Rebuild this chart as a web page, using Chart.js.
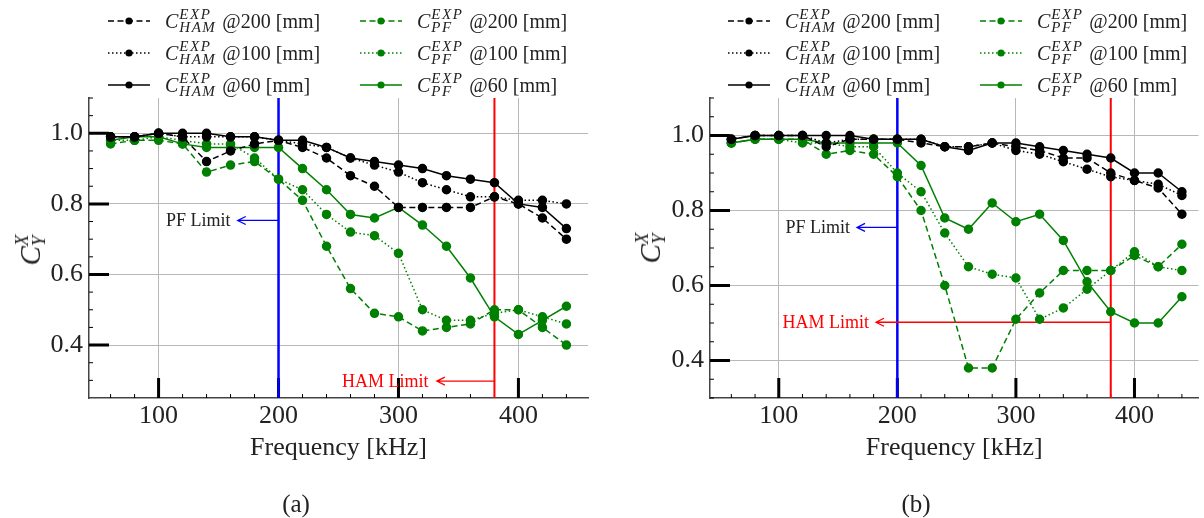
<!DOCTYPE html>
<html lang="en">
<head>
  <meta charset="UTF-8" />
  <title>Coupling coefficient vs frequency</title>
  <script src="https://cdn.jsdelivr.net/npm/chart.js"></script>
  <style>
    body {
      margin: 0;
      background: #fff;
      font-family: "Liberation Serif", serif;
      color: #222;
    }

    .page {
      position: relative;
      width: 1204px;
      height: 518px;
      overflow: hidden;
    }

    canvas {
      position: absolute;
      top: 0;
    }

    #chartA { left: 0; }
    #chartB { left: 621px; }

    .legend-item {
      position: absolute;
      display: flex;
      align-items: center;
      height: 30px;
      font-size: 20px;
      white-space: nowrap;
    }

    .legend-item svg {
      margin-right: 15px;
    }

    .scripts {
      display: inline-flex;
      flex-direction: column;
      font-size: 15px;
      line-height: 13px;
      font-style: italic;
      letter-spacing: 1.5px;
      margin: 0 6px 0 1px;
    }

    .ytitle {
      position: absolute;
      font-size: 29px;
      display: flex;
      align-items: center;
      transform: translate(-50%, -50%) rotate(-90deg);
    }

    .ytitle .scripts {
      font-size: 19px;
      line-height: 17px;
      letter-spacing: 0;
      margin: 0;
    }

    .tag {
      position: absolute;
      top: 490px;
      font-size: 25px;
      transform: translateX(-50%);
    }
  </style>
</head>
<body>
  <div class="page" id="page">
    <canvas id="chartA" width="600" height="518"></canvas>
    <canvas id="chartB" width="583" height="518"></canvas>
    <div class="ytitle" style="left:30px; top:250px"><i>C</i><span class="scripts"><i>X</i><i>Y</i></span></div>
    <div class="ytitle" style="left:650px; top:248px"><i>C</i><span class="scripts"><i>X</i><i>Y</i></span></div>
    <div class="tag" style="left:296px">(a)</div>
    <div class="tag" style="left:916px">(b)</div>
  </div>

  <script>
    const freq = [60, 80, 100, 120, 140, 160, 180, 200, 220, 240, 260, 280, 300, 320, 340, 360, 380, 400, 420, 440];
    const xTicks = [100, 200, 300, 400];
    const yTicks = [0.4, 0.6, 0.8, 1.0];

    // panel (a)
    const hamA200 = [0.99, 0.99, 1.00, 0.99, 0.92, 0.95, 0.97, 0.98, 0.96, 0.93, 0.88, 0.85, 0.79, 0.79, 0.79, 0.79, 0.82, 0.80, 0.76, 0.70];
    const hamA100 = [0.99, 0.99, 1.00, 0.99, 0.99, 0.99, 0.99, 0.98, 0.97, 0.96, 0.93, 0.91, 0.89, 0.86, 0.84, 0.82, 0.82, 0.81, 0.81, 0.80];
    const hamA60  = [0.99, 0.99, 1.00, 1.00, 1.00, 0.99, 0.99, 0.98, 0.98, 0.96, 0.93, 0.92, 0.91, 0.90, 0.88, 0.87, 0.86, 0.80, 0.79, 0.73];
    const pfA200  = [0.97, 0.98, 0.98, 0.97, 0.89, 0.91, 0.92, 0.87, 0.81, 0.68, 0.56, 0.49, 0.48, 0.44, 0.45, 0.46, 0.50, 0.50, 0.45, 0.40];
    const pfA100  = [0.98, 0.98, 0.99, 0.98, 0.97, 0.97, 0.93, 0.87, 0.84, 0.77, 0.72, 0.71, 0.66, 0.50, 0.47, 0.47, 0.49, 0.50, 0.48, 0.46];
    const pfA60   = [0.98, 0.99, 0.99, 0.97, 0.96, 0.96, 0.96, 0.96, 0.90, 0.84, 0.77, 0.76, 0.79, 0.74, 0.68, 0.59, 0.48, 0.43, 0.47, 0.51];

    // panel (b)
    const hamB200 = [0.99, 1.00, 1.00, 1.00, 0.97, 0.99, 0.99, 0.99, 0.98, 0.97, 0.97, 0.98, 0.97, 0.96, 0.94, 0.94, 0.90, 0.88, 0.86, 0.79];
    const hamB100 = [0.99, 1.00, 1.00, 1.00, 0.98, 0.99, 0.99, 0.99, 0.99, 0.97, 0.97, 0.98, 0.96, 0.95, 0.93, 0.91, 0.89, 0.88, 0.87, 0.84];
    const hamB60  = [0.99, 1.00, 1.00, 1.00, 1.00, 1.00, 0.99, 0.99, 0.99, 0.97, 0.96, 0.98, 0.98, 0.97, 0.96, 0.95, 0.94, 0.90, 0.90, 0.85];
    const pfB200  = [0.98, 0.99, 0.99, 0.99, 0.95, 0.96, 0.95, 0.89, 0.80, 0.60, 0.38, 0.38, 0.51, 0.58, 0.64, 0.64, 0.64, 0.68, 0.65, 0.71];
    const pfB100  = [0.98, 0.99, 0.99, 0.98, 0.98, 0.97, 0.97, 0.90, 0.85, 0.74, 0.65, 0.63, 0.62, 0.51, 0.54, 0.59, 0.64, 0.69, 0.65, 0.64];
    const pfB60   = [0.98, 0.99, 0.99, 0.99, 0.98, 0.98, 0.98, 0.98, 0.92, 0.78, 0.75, 0.82, 0.77, 0.79, 0.72, 0.61, 0.53, 0.50, 0.50, 0.57];

    const pfLimit = 200;
    const hamLimit = 380;

    const BLACK = "#000000";
    const GREEN = "#008000";
    const DASHED = [6, 3.5];
    const DOTTED = [1.5, 2.5];
    const SOLID = [];
    const serif = "'Liberation Serif', serif";

    function seriesList(h200, h100, h60, p200, p100, p60) {
      return [
        { sub: "HAM", sup: "EXP", at: "@200 [mm]", values: h200, color: BLACK, dash: DASHED },
        { sub: "HAM", sup: "EXP", at: "@100 [mm]", values: h100, color: BLACK, dash: DOTTED },
        { sub: "HAM", sup: "EXP", at: "@60 [mm]", values: h60, color: BLACK, dash: SOLID },
        { sub: "PF", sup: "EXP", at: "@200 [mm]", values: p200, color: GREEN, dash: DASHED },
        { sub: "PF", sup: "EXP", at: "@100 [mm]", values: p100, color: GREEN, dash: DOTTED },
        { sub: "PF", sup: "EXP", at: "@60 [mm]", values: p60, color: GREEN, dash: SOLID }
      ];
    }

    // inner ticks, limit lines and the two arrow notes
    const decorations = {
      id: "decorations",
      beforeDatasetsDraw(chart, args, opts) {
        const { ctx, chartArea: a, scales: { x, y } } = chart;
        ctx.save();
        ctx.strokeStyle = "#000";

        ctx.lineWidth = 1;
        ctx.beginPath();
        for (let f = 60; f <= 440; f += 20) {
          if (xTicks.includes(f)) continue;
          const px = x.getPixelForValue(f);
          ctx.moveTo(px, a.bottom);
          ctx.lineTo(px, a.bottom - 4);
        }
        for (let k = 6; k <= 22; k++) {
          const v = k / 20;
          if (v < y.min || v > y.max || k % 4 === 0) continue;
          const py = y.getPixelForValue(v);
          ctx.moveTo(a.left, py);
          ctx.lineTo(a.left + 4, py);
        }
        ctx.stroke();

        ctx.lineWidth = 3;
        ctx.beginPath();
        xTicks.forEach(f => {
          const px = x.getPixelForValue(f);
          ctx.moveTo(px, a.bottom);
          ctx.lineTo(px, a.bottom - 20);
        });
        yTicks.forEach(v => {
          const py = y.getPixelForValue(v);
          ctx.moveTo(a.left, py);
          ctx.lineTo(a.left + 20, py);
        });
        ctx.stroke();

        [[pfLimit, "#0000ff", 2.5], [hamLimit, "#ff0000", 2]].forEach(([f, c, w]) => {
          const px = x.getPixelForValue(f);
          ctx.strokeStyle = c;
          ctx.lineWidth = w;
          ctx.beginPath();
          ctx.moveTo(px, a.top);
          ctx.lineTo(px, a.bottom);
          ctx.stroke();
        });

        ctx.font = "18px " + serif;
        ctx.textAlign = "right";
        ctx.textBaseline = "middle";
        opts.notes.forEach(n => {
          const py = y.getPixelForValue(n.y);
          const x0 = x.getPixelForValue(n.from);
          const x1 = x.getPixelForValue(n.to);
          ctx.strokeStyle = n.arrow;
          ctx.lineWidth = 1.3;
          ctx.beginPath();
          ctx.moveTo(x0, py);
          ctx.lineTo(x1, py);
          ctx.moveTo(x1 + 8, py - 4);
          ctx.lineTo(x1, py);
          ctx.lineTo(x1 + 8, py + 4);
          ctx.stroke();
          ctx.fillStyle = n.color;
          ctx.fillText(n.text, x.getPixelForValue(n.right), py + 1);
        });
        ctx.restore();
      }
    };

    function buildLegend(series, offset) {
      const page = document.getElementById("page");
      series.forEach((s, i) => {
        const col = Math.floor(i / 3);
        const row = i % 3;
        const item = document.createElement("div");
        item.className = "legend-item";
        item.style.left = (108 + offset + col * 252) + "px";
        item.style.top = (6 + row * 32) + "px";
        const dash = s.dash.length ? s.dash.join(" ") : "none";
        item.innerHTML =
          '<svg width="42" height="12"><line x1="0" y1="6" x2="42" y2="6" stroke="' + s.color +
          '" stroke-width="1.5" stroke-dasharray="' + dash + '"/><circle cx="21" cy="6" r="3.6" fill="' + s.color + '"/></svg>' +
          '<i>C</i><span class="scripts"><i>' + s.sup + '</i><i>' + s.sub + '</i></span>' + s.at;
        page.appendChild(item);
      });
    }

    function makeChart(id, series, yMin, xMax, rightPad, notes) {
      const tickFont = { family: serif, size: 26 };
      return new Chart(document.getElementById(id), {
        type: "line",
        data: {
          datasets: series.map(s => ({
            data: freq.map((f, i) => ({ x: f, y: s.values[i] })),
            borderColor: s.color,
            backgroundColor: s.color,
            pointBackgroundColor: s.color,
            pointBorderColor: s.color,
            borderWidth: 1.5,
            borderDash: s.dash,
            pointRadius: 4,
            pointHoverRadius: 4,
            tension: 0
          }))
        },
        options: {
          responsive: false,
          animation: false,
          events: [],
          layout: { padding: { top: 98, right: rightPad, left: 0, bottom: 0 } },
          plugins: {
            legend: { display: false },
            tooltip: { enabled: false },
            decorations: { notes: notes }
          },
          scales: {
            x: {
              type: "linear",
              min: 42,
              max: xMax,
              afterFit: s => { s.height = 120; },
              afterBuildTicks: s => { s.ticks = xTicks.map(v => ({ value: v })); },
              ticks: { font: tickFont, color: "#222", padding: 3, callback: v => String(v) },
              grid: { color: "#b8b8b8", lineWidth: 1, drawTicks: false },
              border: { color: "#444", width: 1.5 },
              title: {
                display: true,
                text: "Frequency [kHz]",
                font: tickFont,
                color: "#222",
                padding: { top: 0, bottom: 54 }
              }
            },
            y: {
              min: yMin,
              max: 1.1,
              afterFit: s => { s.width = 89; },
              afterBuildTicks: s => { s.ticks = yTicks.map(v => ({ value: v })); },
              ticks: { font: tickFont, color: "#222", padding: 6, callback: v => v.toFixed(1) },
              grid: { color: "#b8b8b8", lineWidth: 1, drawTicks: false },
              border: { color: "#444", width: 1.5 }
            }
          }
        },
        plugins: [decorations]
      });
    }

    const seriesA = seriesList(hamA200, hamA100, hamA60, pfA200, pfA100, pfA60);
    const seriesB = seriesList(hamB200, hamB100, hamB60, pfB200, pfB100, pfB60);

    makeChart("chartA", seriesA, 0.25, 458, 12, [
      { text: "PF Limit", color: "#222", arrow: "#0000ff", right: 160, y: 0.753, from: pfLimit, to: 166 },
      { text: "HAM Limit", color: "#ff0000", arrow: "#ff0000", right: 325, y: 0.298, from: hamLimit, to: 332 }
    ]);
    makeChart("chartB", seriesB, 0.30, 454, 0, [
      { text: "PF Limit", color: "#222", arrow: "#0000ff", right: 160, y: 0.755, from: pfLimit, to: 166 },
      { text: "HAM Limit", color: "#ff0000", arrow: "#ff0000", right: 176, y: 0.502, from: hamLimit, to: 182 }
    ]);

    buildLegend(seriesA, 0);
    buildLegend(seriesB, 620);
  </script>
</body>
</html>
